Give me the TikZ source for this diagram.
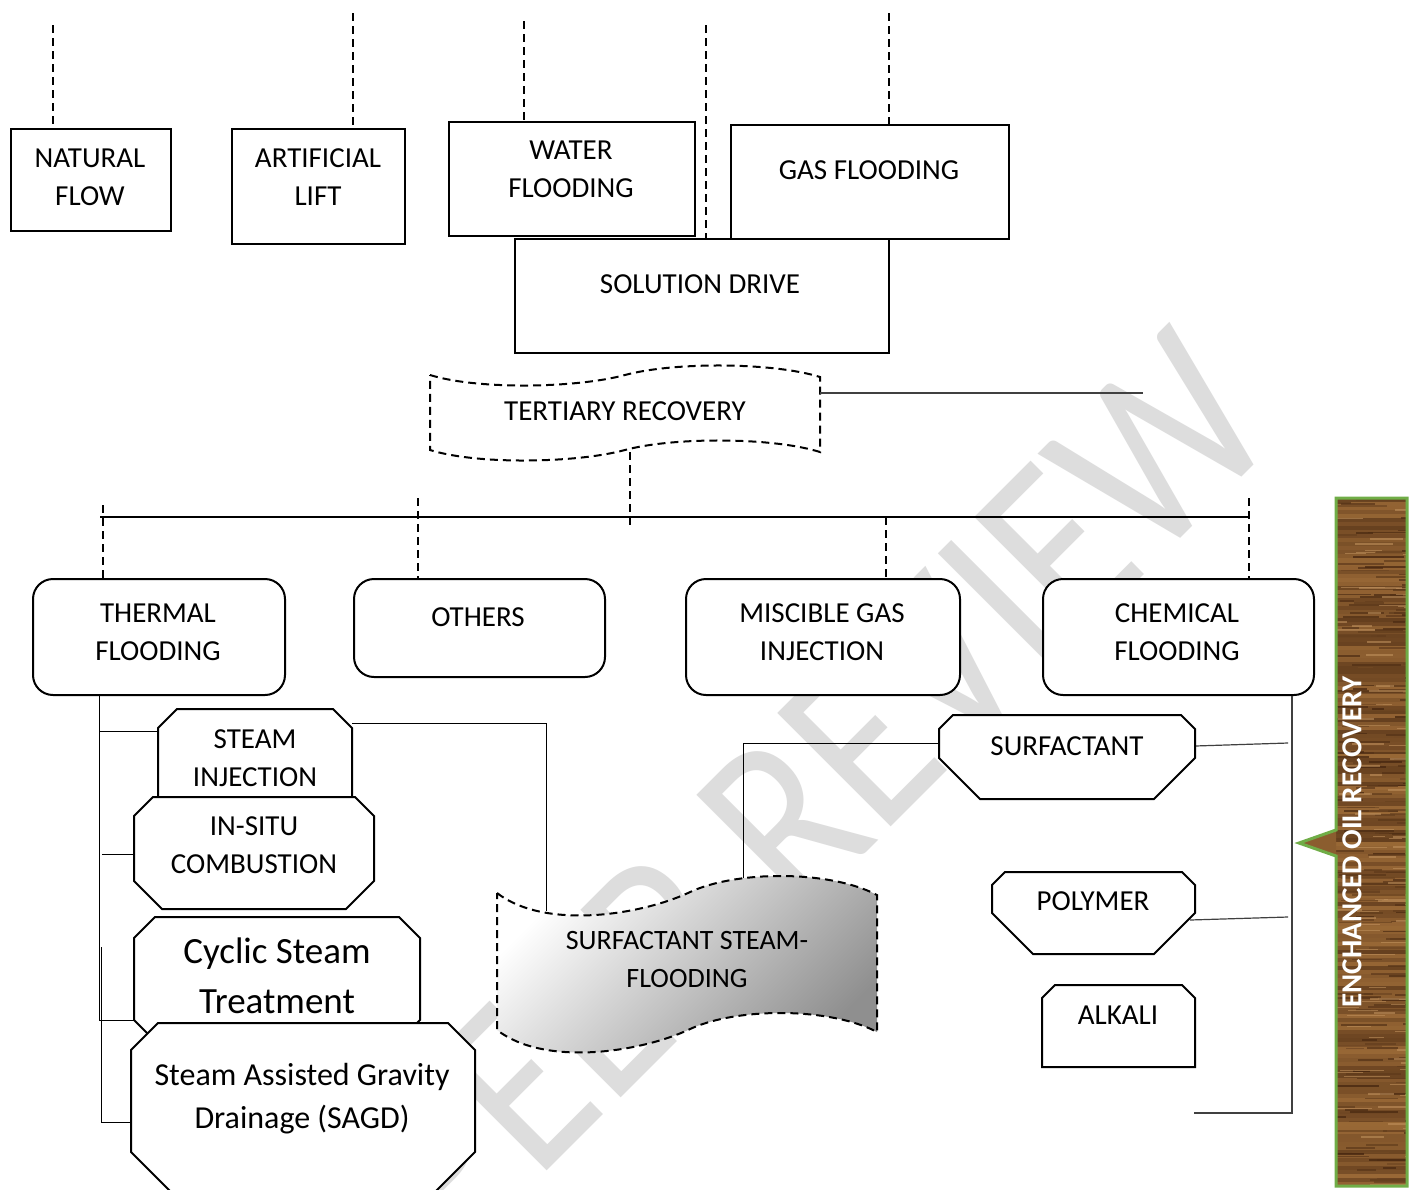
\documentclass[tikz,border=0pt]{standalone}
\usepackage{fontspec}
\setmainfont{Carlito}
\definecolor{eorgreen}{HTML}{70AD47}
\definecolor{woodL}{HTML}{9E6C38}
\definecolor{woodD}{HTML}{3E200C}
\definecolor{woodH}{HTML}{C49560}
\definecolor{wmgray}{HTML}{DDDDDD}
\tikzset{
  box/.style={draw=black, line width=2pt, fill=white},
  rbox/.style={box, rounded corners=20pt, inner sep=0pt},
  sqbox/.style={box, inner sep=0pt},
  lbl/.style={align=center, font=\fontsize{29}{38}\selectfont, inner sep=0pt},
  conn/.style={line width=1pt, black},
  gconn/.style={line width=1.2pt, black!75},
  dconn/.style={line width=1.5pt, dash pattern=on 8pt off 5pt},
  dshape/.style={line width=2pt, dash pattern=on 8pt off 5pt},
}
\newcommand\octshape[7]{%
  \draw[box] (#2,{#3+#6}) -- ({#2+#6},#3) -- ({#4-#6},#3) -- (#4,{#3+#6})
    -- (#4,{#5-#7}) -- ({#4-#7},#5) -- ({#2+#7},#5) -- (#2,{#5-#7}) -- cycle;
  \coordinate (#1-nw) at (#2,#3); \coordinate (#1-se) at (#4,#5);}
\begin{document}
\begin{tikzpicture}[x=1pt,y=-1pt]
\useasboundingbox (0,0) rectangle (1413,1189);
\clip (0,0) rectangle (1413,1189);
\fill[white] (0,0) rectangle (1413,1189);

% watermark
\node[rotate=45, xscale=0.85, text=wmgray, font=\fontsize{250}{250}\selectfont, inner sep=0pt] (wm) at (815,790) {PEER REVIEW};

% top boxes
\node[sqbox, minimum width=374pt, minimum height=114pt, anchor=north west] (sol) at (514,238) {};
\node[sqbox, minimum width=160pt, minimum height=102pt, anchor=north west] (nat) at (10,128) {};
\node[sqbox, minimum width=173pt, minimum height=115pt, anchor=north west] (art) at (231,128) {};
\node[sqbox, minimum width=246pt, minimum height=114pt, anchor=north west] (wat) at (448,121) {};
\node[sqbox, minimum width=278pt, minimum height=114pt, anchor=north west] (gas) at (730,124) {};

% top dashed lines
\coordinate (d1) at (53,25);
\coordinate (d2) at (353,13);
\coordinate (d3) at (524,21);
\coordinate (d4) at (706,25);
\coordinate (d5) at (889,13);
\draw[dconn] (d1) -- (d1 |- nat.north);
\draw[dconn] (d2) -- (d2 |- art.north);
\draw[dconn] (d3) -- (d3 |- wat.north);
\draw[dconn] (d4) -- (d4 |- sol.north);
\draw[dconn] (d5) -- (d5 |- gas.north);

% tertiary recovery wave
\draw[dshape, fill=white] (430,375) .. controls (478,390) and (577,388) .. (625,375)
  .. controls (673,362) and (772,362) .. (820,377) -- (820,452)
  .. controls (772,437) and (673,437) .. (625,450)
  .. controls (577,463) and (478,465) .. (430,450) -- cycle;
\coordinate (terR) at (820,393);
\coordinate (terEnd) at (1143,393);
\coordinate (terB) at (630,452);
\coordinate (terD) at (630,528);
\draw[gconn] (terR) -- (terEnd);
\draw[dconn] (terB) -- (terD);

% bus line
\coordinate (busL) at (100,517);
\coordinate (busR) at (1250,517);
\draw[line width=1.2pt] (busL) -- (busR);

% second-level boxes
\node[rbox, minimum width=252pt, minimum height=116pt, anchor=north west] (thermal) at (32,578) {};
\node[rbox, minimum width=251pt, minimum height=98pt, anchor=north west] (others) at (353,578) {};
\node[rbox, minimum width=274pt, minimum height=116pt, anchor=north west] (miscible) at (685,578) {};
\node[rbox, minimum width=271pt, minimum height=116pt, anchor=north west] (chemical) at (1042,578) {};

\coordinate (b1) at (103,505);
\coordinate (b2) at (418,498);
\coordinate (b3) at (886,517);
\coordinate (b4) at (1249,498);
\draw[dconn] (b1) -- (b1 |- thermal.north);
\draw[dconn] (b2) -- (b2 |- others.north);
\draw[dconn] (b3) -- (b3 |- miscible.north);
\draw[dconn] (b4) -- (b4 |- chemical.north);

% thermal connectors
\coordinate (tv1) at (99,1020);
\coordinate (tv2a) at (101,947);
\coordinate (tv2b) at (101,1122);
\coordinate (siL) at (158,731);
\coordinate (icL) at (134,854);
\coordinate (icS) at (102,854);
\coordinate (csL) at (134,1020);
\coordinate (sgL) at (131,1122);
\draw[conn] (thermal.south -| tv1) -- (tv1) -- (csL);
\draw[conn] (tv2a) -- (tv2b) -- (sgL);
\draw[conn] (tv1 |- siL) -- (siL);
\draw[conn] (icS) -- (icL);

% steam injection -> surfactant steam-flooding
\coordinate (siR) at (352,723);
\coordinate (ssfA) at (546,911);
\draw[conn] (siR) -- (siR -| ssfA) -- (ssfA);

% surfactant steam-flooding -> surfactant
\coordinate (ssfB) at (743,878);
\coordinate (sfL) at (939,743);
\draw[conn] (ssfB) -- (ssfB |- sfL) -- (sfL);

% chemical connectors
\coordinate (chBot) at (1292,1113);
\coordinate (chEnd) at (1194,1113);
\coordinate (sfR) at (1195,746);
\coordinate (sfE) at (1288,743);
\coordinate (poR) at (1190,920);
\coordinate (poE) at (1288,917);
\draw[gconn] (chemical.south -| chBot) -- (chBot) -- (chEnd);
\draw[gconn] (sfR) -- (sfE);
\draw[gconn] (poR) -- (poE);

% octagons
\octshape{si}{158}{709}{352}{812}{19}{15}
\octshape{ic}{134}{797}{374}{909}{19}{28}
\octshape{cs}{134}{917}{420}{1036}{21}{16}
\octshape{sg}{131}{1023}{475}{1197}{27}{45}
\octshape{sf}{939}{715}{1195}{799}{14}{41}
\octshape{po}{992}{872}{1195}{954}{13}{41}
\octshape{al}{1042}{985}{1195}{1067}{13}{0}

% surfactant steam-flooding wave
\path[draw, dshape, top color=white, bottom color=black!44, shading angle=45]
  (497,893) .. controls (545,930) and (640,915) .. (688,893)
  .. controls (735,870) and (830,870) .. (877,895) -- (877,1032)
  .. controls (830,1007) and (735,1007) .. (688,1030)
  .. controls (640,1052) and (545,1067) .. (497,1030) -- cycle;

% EOR bar
\begin{scope}
\clip (1336,498) rectangle (1407,1186);
\fill[woodL] (1336,498) rectangle (1407,1186);
\pgfmathsetseed{7}
\foreach \i in {0,...,172}{
  \pgfmathsetmacro\wdr{int(5+55*rnd)}
  \fill[woodD!\wdr!woodL] (1336,{498+4*\i}) rectangle (1407,{502.2+4*\i});
}
\foreach \j in {1,...,200}{
  \pgfmathsetmacro\sx{1326+80*rnd}
  \pgfmathsetmacro\sy{498+688*rnd}
  \pgfmathsetmacro\sl{12+45*rnd}
  \pgfmathsetmacro\sc{int(45+55*rnd)}
  \fill[woodD!\sc!woodL, opacity=0.7] (\sx,\sy) rectangle ({\sx+\sl},{\sy+1.8});
}
\foreach \j in {1,...,90}{
  \pgfmathsetmacro\sx{1326+80*rnd}
  \pgfmathsetmacro\sy{498+688*rnd}
  \pgfmathsetmacro\sl{10+40*rnd}
  \fill[woodH, opacity=0.55] (\sx,\sy) rectangle ({\sx+\sl},{\sy+1.5});
}
\end{scope}
\coordinate (eorA) at (1336,830);
\coordinate (eorTip) at (1299,843);
\coordinate (eorB) at (1336,856);
\fill[woodL!80!woodD] (eorA) -- (eorTip) -- (eorB) -- cycle;
\draw[eorgreen, line width=3pt, line join=miter] (eorA) -- (eorTip) -- (eorB) -- (1336,1186) -- (1407,1186) -- (1407,498) -- (1336,498) -- cycle;
\node[rotate=90, text=white, font=\bfseries\fontsize{29}{30}\selectfont, inner sep=0pt] (eorT) at (1352,842) {ENCHANCED OIL RECOVERY};

% labels
\node[lbl] (natT) at (90,177) {NATURAL\\FLOW};
\node[lbl] (artT) at (318,177) {ARTIFICIAL\\LIFT};
\node[lbl] (watT) at (571,169.5) {WATER\\FLOODING};
\node[lbl] (gasT) at (869,170) {GAS FLOODING};
\node[lbl] (solT) at (700,284) {SOLUTION DRIVE};
\node[lbl] (terT) at (625,411) {TERTIARY RECOVERY};
\node[lbl] (thermalT) at (158,632) {THERMAL\\FLOODING};
\node[lbl] (othersT) at (478,617) {OTHERS};
\node[lbl] (miscibleT) at (822,632) {MISCIBLE GAS\\INJECTION};
\node[lbl] (chemicalT) at (1177,632) {CHEMICAL\\FLOODING};
\node[lbl] (siT) at (255,758.5) {STEAM\\INJECTION};
\node[lbl] (icT) at (254,845.5) {IN-SITU\\COMBUSTION};
\node[lbl, font=\fontsize{37}{50}\selectfont] (csT) at (277,976) {Cyclic Steam\\Treatment};
\node[lbl, font=\fontsize{32}{43}\selectfont] (sgT) at (302,1099) {Steam Assisted Gravity\\Drainage (SAGD)};
\node[lbl, font=\fontsize{28}{38}\selectfont] (ssfT) at (687,959) {SURFACTANT STEAM-\\FLOODING};
\node[lbl] (sfT) at (1067,746) {SURFACTANT};
\node[lbl] (poT) at (1093,901) {POLYMER};
\node[lbl] (alT) at (1118,1015) {ALKALI};
\end{tikzpicture}
\end{document}
